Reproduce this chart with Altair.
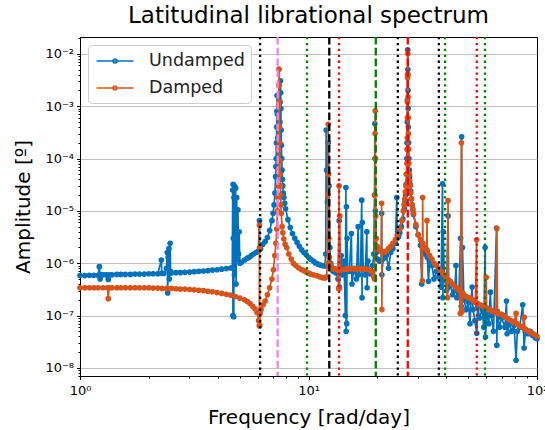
import altair as alt
import pandas as pd

SERIES = ["Undamped", "Damped"]
COLORS = ["#0072BD", "#D95319"]

UNDAMPED = [
    (1.00, 5.8e-7), (1.05, 5.8e-7), (1.10, 5.9e-7), (1.15, 5.9e-7), (1.20, 5.9e-7),
    (1.215, 8.6e-7), (1.225, 5.0e-7), (1.23, 6.0e-7), (1.26, 6.0e-7), (1.30, 6.0e-7),
    (1.33, 4.9e-7), (1.34, 6.0e-7), (1.38, 6.0e-7), (1.45, 6.1e-7), (1.51, 6.1e-7),
    (1.58, 6.1e-7), (1.66, 6.1e-7), (1.74, 6.2e-7), (1.82, 6.2e-7), (1.91, 6.2e-7),
    (2.00, 6.3e-7), (2.09, 6.3e-7), (2.19, 6.3e-7), (2.27, 1.15e-6), (2.28, 6.4e-7),
    (2.33, 6.4e-7), (2.39, 8.0e-7), (2.41, 1.6e-6), (2.42, 2.7e-7), (2.43, 1.3e-6),
    (2.45, 1.9e-6), (2.46, 5.0e-7), (2.48, 2.4e-6), (2.49, 7.0e-7), (2.51, 6.5e-7),
    (2.63, 6.6e-7), (2.75, 6.6e-7), (2.88, 6.7e-7), (3.02, 6.8e-7), (3.16, 6.9e-7),
    (3.31, 7.0e-7), (3.47, 7.1e-7), (3.63, 7.2e-7), (3.80, 7.4e-7), (3.98, 7.5e-7),
    (4.17, 7.7e-7), (4.37, 7.9e-7), (4.57, 8.1e-7), (4.64, 8.2e-7), (4.66, 2.5e-5),
    (4.67, 1.0e-7), (4.68, 3.2e-5), (4.69, 3.0e-6), (4.71, 9.5e-8), (4.72, 1.8e-5),
    (4.74, 6.0e-7), (4.76, 2.9e-5), (4.78, 2.0e-6), (4.80, 2.7e-5), (4.82, 4.0e-7),
    (4.85, 1.8e-5), (4.88, 1.2e-6), (4.91, 1.05e-5), (4.94, 1.5e-6), (4.97, 4.0e-6),
    (5.01, 1.0e-6), (5.10, 1.05e-6), (5.25, 1.15e-6), (5.40, 1.25e-6), (5.50, 1.3e-6),
    (5.62, 1.4e-6), (5.75, 1.5e-6), (5.89, 1.6e-6), (6.03, 1.7e-6), (6.10, 6.5e-6),
    (6.11, 1.8e-6), (6.17, 1.9e-6), (6.31, 2.3e-6), (6.46, 2.6e-6), (6.61, 3.1e-6),
    (6.76, 4.2e-6), (6.92, 6.5e-6), (7.00, 9.0e-6), (7.07, 1.3e-5), (7.13, 2.2e-5),
    (7.18, 4.5e-5), (7.22, 1.0e-4), (7.26, 4.0e-4), (7.29, 1.6e-3), (7.31, 7.0e-4),
    (7.34, 2.5e-4), (7.38, 1.6e-4), (7.42, 1.2e-4), (7.46, 2.0e-4), (7.50, 5.0e-4),
    (7.54, 3.05e-3), (7.57, 9.0e-4), (7.61, 1.8e-4), (7.66, 6.0e-5), (7.72, 3.0e-5),
    (7.80, 1.8e-5), (7.94, 1.1e-5), (8.13, 6.8e-6), (8.32, 4.8e-6), (8.51, 3.7e-6),
    (8.71, 3.0e-6), (8.91, 2.5e-6), (9.12, 2.1e-6), (9.33, 1.8e-6), (9.55, 1.6e-6),
    (9.77, 1.45e-6), (10.0, 1.3e-6), (10.2, 1.2e-6), (10.5, 1.1e-6), (10.7, 1.02e-6),
    (11.0, 9.6e-7), (11.2, 9.3e-7), (11.5, 9.0e-7), (11.8, 8.8e-7), (11.9, 1.5e-6),
    (11.95, 3.5e-4), (12.0, 6.0e-5), (12.1, 1.5e-5), (12.2, 2.0e-4), (12.3, 3.0e-5),
    (12.4, 2.0e-6), (12.5, 1.0e-6), (12.6, 8.5e-7), (12.8, 7.0e-7), (13.0, 7.8e-7),
    (13.2, 6.5e-7), (13.45, 5.0e-7), (13.62, 6.5e-6), (13.66, 3.5e-7), (13.75, 8.0e-7),
    (13.9, 1.4e-6), (14.1, 6.0e-7), (14.3, 1.1e-6), (14.5, 1.0e-7), (14.58, 2.8e-5),
    (14.62, 5.0e-8), (14.66, 1.2e-5), (14.70, 7.0e-8), (14.75, 3.0e-6), (14.85, 7.0e-7),
    (15.1, 7.0e-7), (15.4, 3.7e-6), (15.5, 4.0e-7), (15.8, 8.0e-7), (16.2, 5.0e-7),
    (16.5, 5.0e-6), (16.6, 6.0e-7), (16.9, 8.0e-7), (17.1, 1.6e-5), (17.15, 2.2e-7),
    (17.2, 6.0e-6), (17.35, 8.0e-7), (17.7, 6.0e-7), (18.0, 4.0e-6), (18.05, 3.4e-7),
    (18.2, 1.1e-6), (18.6, 6.3e-7), (18.9, 7.0e-7), (19.1, 9.0e-7), (19.3, 1.5e-6),
    (19.45, 2.0e-5), (19.52, 4.6e-4), (19.56, 1.0e-4), (19.62, 1.0e-5), (19.7, 3.0e-6),
    (19.8, 1.6e-6), (20.0, 1.2e-6), (20.4, 1.1e-6), (20.8, 1.1e-6), (20.9, 9.0e-6),
    (20.95, 6.0e-7), (21.2, 1.2e-6), (21.6, 1.3e-6), (21.9, 1.4e-6), (22.4, 8.0e-7),
    (22.9, 1.6e-6), (23.4, 1.9e-6), (24.0, 2.4e-6), (24.35, 1.8e-5), (24.45, 3.0e-6),
    (24.8, 3.2e-6), (25.1, 3.8e-6), (25.5, 5.0e-6), (25.9, 7.0e-6), (26.3, 1.1e-5),
    (26.6, 2.0e-5), (26.85, 5.0e-5), (27.0, 2.0e-4), (27.1, 1.3e-3), (27.18, 1.2e-2),
    (27.26, 2.0e-3), (27.35, 4.0e-4), (27.5, 1.0e-4), (27.7, 4.5e-5), (28.0, 2.4e-5),
    (28.4, 1.3e-5), (28.8, 8.5e-6), (29.5, 5.0e-6), (30.2, 3.5e-6), (30.9, 2.2e-6),
    (31.3, 4.0e-7), (31.6, 2.0e-6), (32.4, 1.5e-6), (33.1, 1.3e-6), (33.5, 4.5e-7),
    (33.9, 1.1e-6), (34.7, 9.0e-7), (35.4, 5.0e-7), (36.3, 7.0e-7), (37.2, 5.5e-7),
    (38.0, 3.5e-7), (38.6, 3.3e-5), (38.75, 2.2e-7), (38.9, 4.0e-6), (39.3, 5.0e-7),
    (40.2, 3.0e-7), (40.8, 8.0e-6), (41.0, 3.5e-7), (41.7, 4.0e-7), (42.7, 2.5e-7),
    (43.7, 3.0e-7), (44.2, 9.0e-7), (44.6, 2.2e-7), (45.5, 2.5e-7), (46.3, 3.0e-6),
    (46.6, 1.5e-7), (46.8, 2.6e-4), (46.95, 1.2e-7), (47.2, 2.0e-6), (47.9, 2.0e-7),
    (49.0, 1.3e-7), (50.1, 1.8e-7), (50.9, 7.0e-8), (51.5, 2.0e-7), (52.0, 3.5e-7),
    (52.5, 1.3e-7), (53.5, 8.0e-8), (54.5, 4.6e-8), (55.0, 1.5e-7), (56.0, 9.0e-8),
    (57.5, 1.3e-7), (58.5, 6.0e-8), (59.3, 2.0e-6), (59.5, 3.9e-8), (60.3, 1.2e-7),
    (61.5, 7.0e-8), (62.5, 2.8e-7), (63.1, 1.0e-7), (64.5, 5.0e-8), (66.5, 4.7e-6),
    (66.7, 2.7e-8), (67.0, 1.2e-7), (68.5, 6.0e-8), (70.0, 9.0e-8), (72.4, 6.0e-8),
    (73.5, 1.9e-7), (74.0, 4.5e-8), (75.9, 7.0e-8), (77.5, 5.0e-8), (79.4, 6.5e-8),
    (81.0, 1.4e-8), (82.0, 5.0e-8), (84.0, 6.0e-8), (86.6, 1.6e-7), (87.8, 2.4e-8),
    (89.0, 5.0e-8), (91.2, 4.5e-8), (93.5, 5.0e-8), (95.5, 4.2e-8), (98.0, 3.8e-8),
    (100.0, 3.6e-8),
]

# extra samples read along the steep resonance flanks (undamped)
UNDAMPED_FLANKS = [
    (7.20, 7.0e-5), (7.24, 2.0e-4), (7.275, 8.0e-4), (7.52, 1.2e-3), (7.555, 1.8e-3),
    (7.59, 3.5e-4), (7.635, 1.0e-4), (7.69, 4.0e-5), (7.76, 2.2e-5), (7.87, 1.4e-5),
    (26.45, 1.5e-5), (26.75, 3.2e-5), (26.95, 1.0e-4), (27.05, 5.0e-4), (27.14, 4.0e-3),
    (27.22, 5.0e-3), (27.3, 9.0e-4), (27.42, 2.0e-4), (27.6, 6.0e-5), (27.85, 3.2e-5),
    (28.2, 1.7e-5), (28.6, 1.05e-5),
]

DAMPED = [
    (1.00, 3.4e-7), (1.05, 3.4e-7), (1.10, 3.4e-7), (1.15, 3.4e-7), (1.20, 3.4e-7),
    (1.26, 3.4e-7), (1.32, 3.4e-7), (1.33, 2.1e-7), (1.34, 3.4e-7), (1.38, 3.4e-7),
    (1.45, 3.4e-7), (1.51, 3.4e-7), (1.58, 3.4e-7), (1.66, 3.4e-7), (1.74, 3.4e-7),
    (1.82, 3.4e-7), (1.91, 3.4e-7), (2.00, 3.4e-7), (2.09, 3.35e-7), (2.19, 3.35e-7),
    (2.29, 3.3e-7), (2.40, 3.3e-7), (2.51, 3.3e-7), (2.63, 3.25e-7), (2.75, 3.2e-7),
    (2.88, 3.2e-7), (3.02, 3.15e-7), (3.16, 3.1e-7), (3.31, 3.05e-7), (3.47, 3.0e-7),
    (3.63, 2.9e-7), (3.80, 2.85e-7), (3.98, 2.75e-7), (4.17, 2.65e-7), (4.37, 2.55e-7),
    (4.57, 2.45e-7), (4.79, 2.3e-7), (5.01, 2.15e-7), (5.25, 2.0e-7), (5.40, 1.85e-7),
    (5.55, 1.7e-7), (5.70, 1.5e-7), (5.83, 1.35e-7), (5.95, 1.15e-7), (6.05, 8.0e-8),
    (6.09, 6.4e-8), (6.10, 5.3e-6), (6.11, 2.0e-6), (6.12, 6.5e-8), (6.14, 1.1e-7),
    (6.20, 1.3e-7), (6.33, 1.6e-7), (6.46, 1.9e-7), (6.61, 2.5e-7), (6.76, 3.4e-7),
    (6.92, 5.0e-7), (7.02, 7.5e-7), (7.12, 1.4e-6), (7.20, 2.4e-6), (7.26, 4.5e-6),
    (7.31, 1.0e-5), (7.35, 3.0e-5), (7.38, 1.5e-4), (7.41, 1.0e-3), (7.43, 5.1e-3),
    (7.45, 1.2e-3), (7.48, 2.0e-4), (7.51, 5.0e-5), (7.55, 2.0e-5), (7.60, 9.0e-6),
    (7.66, 5.0e-6), (7.72, 3.8e-6), (7.80, 2.9e-6), (7.90, 2.3e-6), (8.03, 2.0e-6),
    (8.20, 1.5e-6), (8.40, 1.2e-6), (8.58, 1.0e-6), (8.80, 9.0e-7), (9.05, 8.2e-7),
    (9.30, 7.6e-7), (9.55, 7.2e-7), (9.77, 6.8e-7), (10.0, 6.5e-7), (10.2, 6.2e-7),
    (10.5, 6.0e-7), (10.85, 5.8e-7), (11.2, 5.5e-7), (11.5, 5.3e-7), (11.8, 5.2e-7),
    (12.0, 5.5e-7), (12.1, 1.0e-6), (12.15, 2.0e-5), (12.2, 4.5e-4), (12.24, 5.0e-5),
    (12.28, 3.0e-6), (12.35, 1.3e-6), (12.5, 9.0e-7), (12.6, 8.0e-7), (12.8, 7.8e-7),
    (13.0, 7.8e-7), (13.2, 7.7e-7), (13.4, 7.5e-7), (13.55, 3.3e-7), (13.6, 3.0e-5),
    (13.64, 3.3e-7), (13.7, 8.0e-6), (13.8, 7.5e-7), (14.1, 7.6e-7), (14.5, 7.7e-7),
    (14.8, 7.7e-7), (15.1, 7.8e-7), (15.5, 7.8e-7), (15.8, 7.8e-7), (16.2, 7.8e-7),
    (16.6, 7.8e-7), (17.0, 7.8e-7), (17.4, 7.8e-7), (17.8, 7.7e-7), (18.2, 7.6e-7),
    (18.6, 7.3e-7), (19.0, 6.8e-7), (19.3, 5.5e-7), (19.45, 5.0e-7), (19.52, 2.0e-5),
    (19.56, 3.0e-4), (19.6, 8.2e-4), (19.64, 1.0e-4), (19.7, 8.0e-6), (19.8, 3.0e-6),
    (20.0, 2.1e-6), (20.4, 1.8e-6), (20.85, 1.7e-6), (20.9, 1.4e-5), (20.95, 1.3e-7),
    (21.0, 1.6e-6), (21.5, 1.6e-6), (21.9, 1.7e-6), (22.4, 1.9e-6), (22.9, 2.1e-6),
    (23.4, 2.4e-6), (24.0, 2.8e-6), (24.5, 3.5e-6), (25.1, 4.5e-6), (25.6, 6.5e-6),
    (26.0, 1.0e-5), (26.4, 1.7e-5), (26.7, 3.0e-5), (26.95, 8.0e-5), (27.05, 2.5e-4),
    (27.12, 1.2e-3), (27.2, 1.0e-2), (27.28, 1.5e-3), (27.36, 3.0e-4), (27.5, 8.0e-5),
    (27.7, 3.8e-5), (28.0, 2.2e-5), (28.4, 1.3e-5), (28.8, 9.0e-6), (29.5, 5.5e-6),
    (30.2, 3.5e-6), (30.9, 2.8e-6), (31.5, 4.6e-7), (31.6, 1.8e-5), (31.7, 2.4e-6),
    (32.4, 2.0e-6), (32.9, 1.8e-6), (33.0, 6.5e-6), (33.1, 1.7e-6), (33.9, 1.4e-6),
    (34.7, 1.2e-6), (35.5, 1.0e-6), (36.3, 9.0e-7), (37.2, 8.0e-7), (38.0, 7.0e-7),
    (38.9, 6.2e-7), (39.8, 5.5e-7), (40.6, 2.2e-7), (40.8, 1.57e-5), (41.0, 4.8e-7),
    (41.7, 4.5e-7), (42.7, 4.0e-7), (43.7, 3.6e-7), (44.7, 3.3e-7), (45.7, 3.0e-7),
    (46.2, 1.1e-7), (46.7, 2.0e-4), (46.9, 1.2e-7), (47.3, 2.7e-7), (47.9, 2.5e-7),
    (49.0, 2.3e-7), (50.1, 2.2e-7), (51.3, 2.1e-7), (52.5, 1.95e-7), (53.7, 1.8e-7),
    (54.4, 2.8e-6), (54.6, 1.7e-7), (55.0, 1.7e-7), (56.2, 1.6e-7), (57.5, 1.55e-7),
    (58.9, 1.45e-7), (60.0, 5.4e-7), (60.2, 1.4e-7), (61.6, 1.3e-7), (63.1, 1.25e-7),
    (64.6, 1.2e-7), (66.1, 1.15e-7), (66.7, 4.6e-6), (67.2, 1.1e-7), (68.5, 1.07e-7),
    (70.0, 1.05e-7), (71.5, 1.0e-7), (72.4, 9.5e-8), (74.0, 8.8e-8), (75.9, 8.3e-8),
    (77.6, 7.8e-8), (79.4, 7.4e-8), (81.0, 1.1e-7), (81.5, 7.0e-8), (83.2, 6.5e-8),
    (85.0, 6.2e-8), (87.1, 5.8e-8), (88.0, 9.3e-8), (88.5, 5.6e-8), (89.1, 5.4e-8),
    (91.2, 5.1e-8), (93.3, 4.8e-8), (95.5, 4.6e-8), (97.7, 4.3e-8), (100.0, 4.0e-8),
]

# extra samples read along the steep resonance flanks (damped)
DAMPED_FLANKS = [
    (7.33, 1.8e-5), (7.365, 6.0e-5), (7.395, 4.0e-4), (7.42, 2.5e-3), (7.44, 2.5e-3),
    (7.465, 4.0e-4), (7.495, 9.0e-5), (7.53, 3.0e-5), (7.575, 1.3e-5),
    (26.2, 1.3e-5), (26.55, 2.3e-5), (26.85, 5.0e-5), (27.0, 1.5e-4), (27.09, 6.0e-4),
    (27.16, 3.5e-3), (27.24, 4.0e-3), (27.32, 6.0e-4), (27.43, 1.5e-4), (27.6, 5.0e-5),
    (27.85, 3.0e-5), (28.2, 1.7e-5), (28.6, 1.1e-5),
]

REF_FREQ = [6.14, 7.33, 9.85, 12.33, 13.6, 19.7, 24.6, 27.2, 37.2, 39.6, 54.5, 59.2]
REF_COLOR = ["black", "violet", "green", "black", "red", "green",
             "black", "red", "black", "green", "red", "green"]
REF_STYLE = ["dotted", "dashed", "dotted", "dashed", "dotted", "dashed",
             "dotted", "dashed", "dotted", "dotted", "dotted", "dotted"]

X_MAJOR = [1, 10, 100]
Y_MAJOR = [1e-8, 1e-7, 1e-6, 1e-5, 1e-4, 1e-3, 1e-2]
X_MINOR = [m * d for d in (1, 10) for m in range(2, 10)]
Y_MINOR = [m * d for d in (1e-9, 1e-8, 1e-7, 1e-6, 1e-5, 1e-4, 1e-3, 1e-2)
           for m in range(2, 10) if 7e-9 <= m * d <= 2.1e-2]

rows = []
for name, pts in zip(SERIES, [sorted(UNDAMPED + UNDAMPED_FLANKS),
                              sorted(DAMPED + DAMPED_FLANKS)]):
    for i, (f, a) in enumerate(pts):
        rows.append({"series": name, "freq": f, "amp": a, "idx": i})
df = pd.DataFrame(rows)
ref = pd.DataFrame({"freq": REF_FREQ, "color": REF_COLOR, "style": REF_STYLE})

FONT = "DejaVu Sans"
xscale = alt.Scale(type="log", domain=[1, 100], nice=False)
yscale = alt.Scale(type="log", domain=[7e-9, 2.1e-2], nice=False)
cscale = alt.Scale(domain=SERIES, range=COLORS)

SUP = "'10' + (round(log(datum.value)/LN10) < 0 ? '⁻' : '') + substring('⁰¹²³⁴⁵⁶⁷⁸⁹', abs(round(log(datum.value)/LN10)), abs(round(log(datum.value)/LN10)) + 1)"

x_major = alt.Axis(values=X_MAJOR, labelExpr=SUP, title="Frequency [rad/day]",
                   grid=False, orient="bottom", tickSize=3.5, labelPadding=5,
                   titlePadding=10, labelFlush=False)
y_major = alt.Axis(values=Y_MAJOR, labelExpr=SUP, title="Amplitude [º]",
                   grid=True, orient="left", tickSize=3.5, labelPadding=3,
                   titlePadding=11)
x_minor = alt.Axis(values=X_MINOR, labels=False, title=None, grid=False,
                   domain=False, orient="bottom", tickSize=2)
y_minor = alt.Axis(values=Y_MINOR, labels=False, title=None, grid=False,
                   domain=False, orient="left", tickSize=2)

minor = alt.Chart(df).mark_point(opacity=0).encode(
    x=alt.X("freq:Q", scale=xscale, axis=x_minor),
    y=alt.Y("amp:Q", scale=yscale, axis=y_minor),
)

LEG_PATH = "M-2.05,0H2.05M0.22,0A0.22,0.22,0,1,1,-0.22,0A0.22,0.22,0,1,1,0.22,0"


def series_layers(name, first):
    d = df[df.series == name]
    line = alt.Chart(d).mark_line(strokeWidth=1.7).encode(
        x=alt.X("freq:Q", scale=xscale, axis=x_major if first else None),
        y=alt.Y("amp:Q", scale=yscale, axis=y_major if first else None),
        order=alt.Order("idx:Q"),
        color=alt.Color("series:N", scale=cscale,
                        legend=alt.Legend(title=None, orient="top-left",
                                          symbolType=LEG_PATH, symbolSize=324,
                                          symbolStrokeWidth=1.5, symbolOffset=11,
                                          labelOffset=24, padding=6, offset=8,
                                          rowPadding=8,
                                          labelFontSize=17.5, labelFont=FONT,
                                          labelColor="#222222",
                                          fillColor="white", strokeColor="#cccccc",
                                          cornerRadius=4) if first else None),
    )
    pts = alt.Chart(d).mark_circle(size=32, opacity=1).encode(
        x=alt.X("freq:Q", scale=xscale, axis=None),
        y=alt.Y("amp:Q", scale=yscale, axis=None),
        color=alt.Color("series:N", scale=cscale, legend=None),
    )
    return [line, pts]


def ref_layer(style, dash):
    return alt.Chart(ref).transform_filter(alt.datum.style == style).mark_rule(
        strokeWidth=2.3, strokeDash=dash
    ).encode(
        x=alt.X("freq:Q", scale=xscale, axis=None),
        color=alt.Color("color:N", scale=None, legend=None),
    )


layers = [minor] + series_layers("Undamped", True) + series_layers("Damped", False) + [
    ref_layer("dotted", [2.3, 3.6]), ref_layer("dashed", [7.6, 3.2])]

chart = alt.layer(*layers).resolve_axis(x="independent", y="independent").resolve_scale(
    color="independent"
).properties(
    width=457, height=339,
    title=alt.TitleParams("Latitudinal librational spectrum", fontSize=23,
                          font=FONT, fontWeight="normal", color="black", offset=8),
    autosize=alt.AutoSizeParams(type="none"),
    padding={"left": 80, "top": 37, "right": 8, "bottom": 54},
).configure_axis(
    labelFont=FONT, labelFontSize=13, labelColor="black",
    titleFont=FONT, titleFontSize=20, titleFontWeight="normal", titleColor="black",
    domainColor="black", tickColor="black", gridColor="#b0b0b0", gridWidth=0.8,
).configure_view(stroke="black", strokeWidth=1)

chart.save("out.html", embed_options={"renderer": "svg", "actions": False})
